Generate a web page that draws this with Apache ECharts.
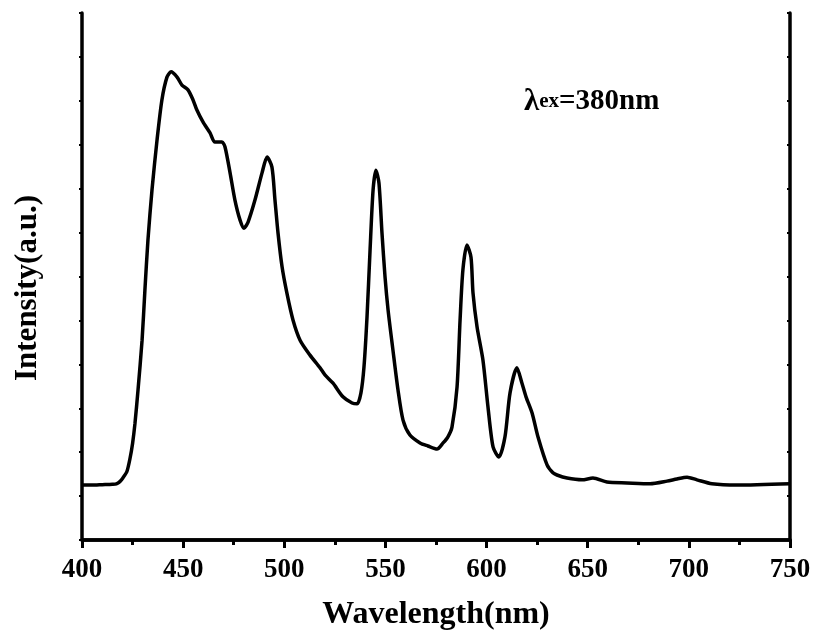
<!DOCTYPE html>
<html>
<head>
<meta charset="utf-8">
<script src="https://cdn.jsdelivr.net/npm/echarts@6/dist/echarts.min.js"></script>
<style>
html,body{margin:0;padding:0;background:#fff;}
#chart{width:814px;height:639px;}
</style>
</head>
<body>
<div id="chart"></div>
<script>
// Wavelength (nm)
const wavelength = [400,405,410,415,417,418.7,420.3,422.2,423.7,425.0,426.2,427.7,429.7,431.1,432.6,434.6,437.1,439.5,442.0,444.0,447.0,449.4,452.4,454.9,456.8,459.8,463.3,465.7,469.2,470.7,473.2,475.6,478.1,480.1,482.1,485.5,489.0,491.5,493.9,495.4,496.9,498.9,501.3,504.3,507.8,512.7,517.7,520.1,524.1,529.0,533.5,536.0,537.9,539.4,540.9,542.4,543.9,545.3,546.8,548.3,549.8,551.3,553.7,556.2,558.7,562.1,567.1,571.0,575.5,578.5,580.9,582.9,585.4,586.9,588.3,590.3,592.3,593.3,595.3,598.2,600.7,603.2,606.1,609.1,611.6,615.0,617.5,619.5,622.5,625.4,629.9,632.8,634.8,639.8,647.2,652.6,659.5,669.4,680.8,689.2,694.1,699.1,704.0,711.4,723.8,750];
// Intensity (a.u.)
const intensity = [1.25,1.25,1.26,1.27,1.28,1.33,1.42,1.56,1.85,2.20,2.66,3.42,4.55,5.69,6.83,7.97,9.11,10.02,10.54,10.66,10.54,10.36,10.25,10.02,9.79,9.52,9.27,9.06,9.06,8.95,8.36,7.74,7.29,7.10,7.24,7.74,8.36,8.72,8.49,7.74,6.99,6.22,5.62,5.01,4.55,4.21,3.92,3.76,3.57,3.26,3.12,3.10,3.35,3.94,5.08,6.60,7.97,8.42,8.13,6.99,5.99,5.24,4.33,3.42,2.73,2.39,2.21,2.14,2.07,2.21,2.35,2.57,3.48,5.01,6.15,6.72,6.44,5.62,4.85,4.10,3.03,2.12,1.89,2.35,3.35,3.92,3.57,3.26,2.89,2.35,1.71,1.53,1.48,1.41,1.37,1.41,1.32,1.30,1.28,1.34,1.39,1.43,1.37,1.28,1.25,1.28];
const xTicks = [400,450,500,550,600,650,700,750];

const FONT = '"Liberation Serif","Times New Roman",serif';
const chart = echarts.init(document.getElementById('chart'), null, {renderer:'canvas'});
const axisLine = {show:true, lineStyle:{color:'#000', width:3.5}};
chart.setOption({
  animation:false,
  backgroundColor:'#fff',
  grid:{left:82, right:24, top:13, bottom:99, containLabel:false},
  xAxis:[{
    type:'value', min:xTicks[0], max:xTicks[xTicks.length-1], interval:50,
    position:'bottom',
    axisLine:axisLine,
    axisTick:{show:true, inside:false, length:8, lineStyle:{color:'#000', width:3}},
    minorTick:{show:true, splitNumber:2, length:5, lineStyle:{color:'#000', width:3}},
    splitLine:{show:false},
    axisLabel:{show:true, color:'#000', fontFamily:FONT, fontWeight:'bold', fontSize:27, margin:17},
    name:'Wavelength(nm)', nameLocation:'middle', nameGap:59,
    nameTextStyle:{color:'#000', fontFamily:FONT, fontWeight:'bold', fontSize:32}
  },{
    type:'value', min:xTicks[0], max:xTicks[xTicks.length-1], interval:25,
    position:'top',
    axisLine:axisLine,
    axisTick:{show:true, inside:true, length:3, lineStyle:{color:'#000', width:2}},
    splitLine:{show:false},
    axisLabel:{show:false}
  }],
  yAxis:[{
    type:'value', min:0, max:12, interval:1,
    position:'left',
    axisLine:axisLine,
    axisTick:{show:true, inside:false, length:3, lineStyle:{color:'#000', width:2}},
    splitLine:{show:false},
    axisLabel:{show:false}
  },{
    type:'value', min:0, max:12, interval:1,
    position:'right',
    axisLine:axisLine,
    axisTick:{show:true, inside:true, length:3, lineStyle:{color:'#000', width:2}},
    splitLine:{show:false},
    axisLabel:{show:false}
  }],
  series:[{
    type:'line',
    xAxisIndex:0, yAxisIndex:0,
    data: wavelength.map((w,i)=>[w, intensity[i]]),
    showSymbol:false,
    smooth:0.25,
    lineStyle:{color:'#000', width:3.5},
    z:3
  }],
  graphic:[{
    type:'text',
    x:28, y:288, rotation:Math.PI/2,
    style:{
      text:'Intensity(a.u.)',
      fontFamily:FONT, fontWeight:'bold', fontSize:31, fill:'#000',
      align:'center', verticalAlign:'middle'
    }
  },{
    type:'text',
    left:524, top:86,
    style:{
      text:'{l|λ}{s|ex}{b|=380nm}',
      rich:{
        l:{fontFamily:FONT, fontWeight:'bold', fontSize:31, fill:'#000'},
        s:{fontFamily:FONT, fontWeight:'bold', fontSize:21, fill:'#000'},
        b:{fontFamily:FONT, fontWeight:'bold', fontSize:29, fill:'#000'}
      }
    }
  }]
});
</script>
</body>
</html>
